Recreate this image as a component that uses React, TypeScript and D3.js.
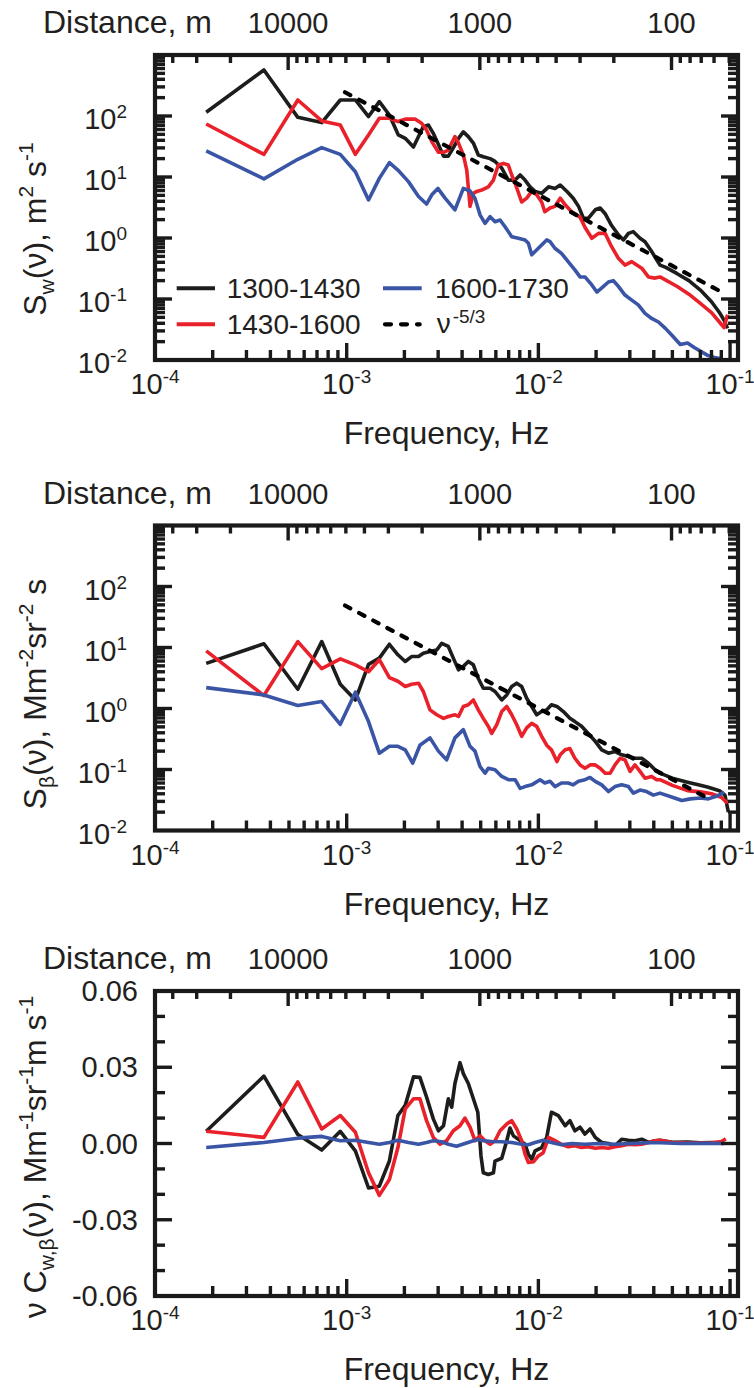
import React from 'react';
import * as d3 from 'd3';

type Pt = [number, number];

// ---------------- data ----------------
const SERIES_NAMES = ['1300-1430', '1430-1600', '1600-1730'];
const SERIES_COLORS = ['#1d1d1b', '#e9212a', '#3a55a5'];
const WIND_SPEED = 4.95; // m/s : frequency = WIND_SPEED / distance
const FREQ_DOMAIN: [number, number] = [1e-4, 0.11];
const LOG_Y_DOMAIN: [number, number] = [1e-2, 1e3];
const LIN_Y_DOMAIN: [number, number] = [-0.06, 0.06];
const FREQ_LABELS = [1e-4, 1e-3, 1e-2, 1e-1];
const LOG_Y_LABELS = [1e-2, 1e-1, 1e0, 1e1, 1e2];
const LIN_Y_LABELS = [-0.06, -0.03, 0, 0.03, 0.06];
const DIST_LABELS = [10000, 1000, 100];
const DIST_TICKS = [40000, 30000, 20000, 10000, 9000, 8000, 7000, 6000, 5000, 4000, 3000, 2000,
  1000, 900, 800, 700, 600, 500, 400, 300, 200, 100, 90, 80, 70, 60, 50];

// Panel 1: S_w
const swBlack: Pt[] = [[1.85e-4,115],[3.70e-4,568],[5.56e-4,95],[7.41e-4,78],[9.26e-4,183],[1.11e-3,183],[1.30e-3,98],[1.48e-3,172],[1.67e-3,104],[1.86e-3,49],[2.02e-3,43],[2.23e-3,31],[2.37e-3,46],[2.51e-3,67],[2.67e-3,71],[2.83e-3,52],[3.01e-3,34],[3.20e-3,22],[3.39e-3,22],[3.60e-3,30],[3.83e-3,43],[4.06e-3,55],[4.31e-3,46],[4.58e-3,36],[4.86e-3,23],[5.16e-3,21.5],[5.60e-3,20],[5.94e-3,18],[6.44e-3,14],[6.97e-3,8.9],[7.56e-3,8.9],[8.03e-3,10.8],[8.52e-3,8.9],[9.05e-3,6.9],[9.61e-3,5.8],[1.04e-2,5.4],[1.13e-2,6.9],[1.22e-2,6.5],[1.30e-2,7.4],[1.41e-2,5.8],[1.52e-2,4.5],[1.62e-2,3.3],[1.72e-2,2.1],[1.82e-2,2.1],[1.98e-2,2.9],[2.10e-2,3.1],[2.23e-2,2.5],[2.41e-2,1.6],[2.62e-2,1.12],[2.78e-2,0.93],[2.95e-2,1.19],[3.13e-2,1.27],[3.39e-2,0.99],[3.60e-2,0.87],[3.90e-2,0.6],[4.14e-2,0.44],[4.31e-2,0.36],[4.62e-2,0.33],[5.3e-2,0.26],[6.1e-2,0.2],[7.0e-2,0.14],[8.0e-2,0.09],[8.8e-2,0.06],[9.3e-2,0.045],[9.7e-2,0.033]];
const swRed: Pt[] = [[1.85e-4,74],[3.70e-4,23.5],[5.56e-4,183],[7.41e-4,83],[9.26e-4,71],[1.11e-3,23.5],[1.30e-3,49],[1.48e-3,92],[1.67e-3,92],[1.85e-3,81],[2.04e-3,89],[2.27e-3,89],[2.46e-3,76],[2.61e-3,59],[2.78e-3,38],[3.01e-3,25.4],[3.20e-3,25.4],[3.39e-3,27.7],[3.67e-3,46],[3.83e-3,36],[4.06e-3,23],[4.23e-3,13],[4.40e-3,3.3],[4.58e-3,5.4],[4.77e-3,5.8],[5.06e-3,6.1],[5.48e-3,6.9],[5.83e-3,8.9],[5.94e-3,10.8],[6.18e-3,15.7],[6.57e-3,16.7],[6.97e-3,15.7],[7.26e-3,10.8],[7.56e-3,7.9],[8.18e-3,3.9],[8.69e-3,4.5],[9.23e-3,5.8],[9.80e-3,5.1],[1.04e-2,3.9],[1.08e-2,2.7],[1.15e-2,3.1],[1.22e-2,3.3],[1.30e-2,4.5],[1.38e-2,3.5],[1.49e-2,2.7],[1.65e-2,2.2],[1.75e-2,1.5],[1.90e-2,0.99],[2.06e-2,1.19],[2.23e-2,1.19],[2.41e-2,0.72],[2.62e-2,0.46],[2.83e-2,0.36],[3.07e-2,0.41],[3.26e-2,0.36],[3.46e-2,0.32],[3.75e-2,0.23],[4.06e-2,0.22],[4.31e-2,0.23],[5.3e-2,0.16],[6.1e-2,0.12],[7.0e-2,0.085],[8.0e-2,0.06],[8.8e-2,0.042],[9.3e-2,0.034],[9.7e-2,0.055]];
const swBlue: Pt[] = [[1.85e-4,26.7],[3.70e-4,9.3],[5.56e-4,19.5],[7.41e-4,30.3],[9.26e-4,23.5],[1.11e-3,12.2],[1.30e-3,4.2],[1.48e-3,9.5],[1.67e-3,17.2],[1.85e-3,13],[2.10e-3,8.4],[2.37e-3,4.8],[2.61e-3,3.6],[2.78e-3,5.1],[2.99e-3,6.5],[3.26e-3,4.5],[3.67e-3,2.9],[4.06e-3,6.5],[4.40e-3,5.9],[4.67e-3,4.5],[4.96e-3,2.4],[5.27e-3,1.74],[5.60e-3,2.24],[5.94e-3,1.85],[6.31e-3,1.97],[6.70e-3,1.53],[7.26e-3,1.05],[7.86e-3,0.99],[8.52e-3,0.93],[8.87e-3,0.82],[9.23e-3,0.53],[9.61e-3,0.6],[1.04e-2,0.77],[1.105e-2,0.93],[1.15e-2,0.87],[1.22e-2,0.68],[1.32e-2,0.56],[1.43e-2,0.41],[1.55e-2,0.3],[1.65e-2,0.23],[1.75e-2,0.23],[1.90e-2,0.17],[2.02e-2,0.13],[2.18e-2,0.16],[2.32e-2,0.19],[2.46e-2,0.2],[2.62e-2,0.16],[2.83e-2,0.116],[3.07e-2,0.096],[3.32e-2,0.08],[3.60e-2,0.058],[3.90e-2,0.048],[4.23e-2,0.042],[4.6e-2,0.033],[5.0e-2,0.025],[5.5e-2,0.018],[6.0e-2,0.019],[6.5e-2,0.016],[7.0e-2,0.014],[7.6e-2,0.012],[8.3e-2,0.011],[9.0e-2,0.0105],[9.3e-2,0.0098]];
const swRef: Pt[] = [[9.8e-4,245],[9.3e-2,0.124]];

// Panel 2: S_beta
const sbBlack: Pt[] = [[1.85e-4,5.5],[3.70e-4,11.5],[5.56e-4,2.07],[7.41e-4,12.5],[9.26e-4,2.5],[1.11e-3,1.38],[1.30e-3,5.3],[1.48e-3,6.7],[1.67e-3,11.3],[1.85e-3,7.6],[2.02e-3,5.9],[2.18e-3,7.1],[2.37e-3,7.1],[2.51e-3,8.05],[2.72e-3,8.6],[2.95e-3,9.1],[3.13e-3,11.7],[3.39e-3,10.4],[3.60e-3,6.7],[3.83e-3,4.3],[4.06e-3,4.9],[4.31e-3,5.9],[4.58e-3,5.2],[4.86e-3,3.1],[5.16e-3,2.15],[5.60e-3,2.15],[5.94e-3,1.9],[6.44e-3,1.38],[6.84e-3,1.67],[7.26e-3,2.3],[7.71e-3,2.6],[8.18e-3,2.3],[8.69e-3,1.47],[9.23e-3,1.08],[9.80e-3,0.79],[1.04e-2,0.89],[1.105e-2,0.95],[1.17e-2,1.15],[1.25e-2,1.08],[1.35e-2,0.89],[1.46e-2,0.69],[1.55e-2,0.61],[1.68e-2,0.51],[1.82e-2,0.39],[1.98e-2,0.29],[2.14e-2,0.21],[2.32e-2,0.185],[2.51e-2,0.197],[2.72e-2,0.174],[2.95e-2,0.163],[3.19e-2,0.153],[3.46e-2,0.153],[3.75e-2,0.127],[4.06e-2,0.099],[4.31e-2,0.087],[5.0e-2,0.072],[6.0e-2,0.062],[7.0e-2,0.055],[7.7e-2,0.051],[8.8e-2,0.045],[9.4e-2,0.038],[9.8e-2,0.02]];
const sbRed: Pt[] = [[1.85e-4,8.8],[3.70e-4,1.63],[5.56e-4,12.5],[7.41e-4,4.5],[9.26e-4,6.5],[1.11e-3,5.2],[1.30e-3,4.0],[1.48e-3,6.3],[1.67e-3,3.2],[1.85e-3,2.8],[2.02e-3,2.3],[2.18e-3,2.5],[2.37e-3,2.6],[2.51e-3,1.9],[2.72e-3,0.95],[2.95e-3,0.79],[3.20e-3,0.69],[3.39e-3,0.74],[3.67e-3,0.79],[3.83e-3,0.74],[4.06e-3,1.08],[4.31e-3,1.15],[4.58e-3,1.38],[4.86e-3,0.95],[5.16e-3,0.69],[5.48e-3,0.51],[5.71e-3,0.39],[6.06e-3,0.54],[6.44e-3,0.89],[6.84e-3,1.08],[7.26e-3,0.79],[7.71e-3,0.54],[8.18e-3,0.35],[8.69e-3,0.48],[9.23e-3,0.57],[9.80e-3,0.51],[1.04e-2,0.35],[1.105e-2,0.25],[1.17e-2,0.21],[1.25e-2,0.135],[1.30e-2,0.174],[1.38e-2,0.21],[1.46e-2,0.22],[1.55e-2,0.153],[1.65e-2,0.119],[1.75e-2,0.105],[1.86e-2,0.119],[1.98e-2,0.119],[2.10e-2,0.105],[2.23e-2,0.087],[2.37e-2,0.087],[2.51e-2,0.119],[2.67e-2,0.153],[2.83e-2,0.144],[3.01e-2,0.093],[3.19e-2,0.119],[3.39e-2,0.093],[3.60e-2,0.072],[3.90e-2,0.077],[4.14e-2,0.068],[4.31e-2,0.068],[5.0e-2,0.055],[6.0e-2,0.045],[7.0e-2,0.043],[8.0e-2,0.04],[9.0e-2,0.035],[9.7e-2,0.028]];
const sbBlue: Pt[] = [[1.85e-4,2.2],[3.70e-4,1.67],[5.56e-4,1.12],[7.41e-4,1.3],[9.26e-4,0.55],[1.11e-3,1.85],[1.30e-3,0.61],[1.48e-3,0.185],[1.67e-3,0.24],[1.85e-3,0.24],[2.02e-3,0.21],[2.21e-3,0.127],[2.41e-3,0.25],[2.72e-3,0.33],[3.01e-3,0.2],[3.32e-3,0.144],[3.67e-3,0.33],[4.06e-3,0.45],[4.40e-3,0.24],[4.67e-3,0.2],[4.96e-3,0.112],[5.27e-3,0.087],[5.48e-3,0.105],[5.94e-3,0.099],[6.44e-3,0.077],[6.97e-3,0.068],[7.56e-3,0.068],[8.03e-3,0.049],[8.52e-3,0.0525],[9.23e-3,0.056],[1.02e-2,0.068],[1.08e-2,0.06],[1.15e-2,0.064],[1.22e-2,0.0525],[1.32e-2,0.06],[1.43e-2,0.06],[1.52e-2,0.056],[1.62e-2,0.064],[1.75e-2,0.068],[1.86e-2,0.074],[1.98e-2,0.064],[2.14e-2,0.056],[2.32e-2,0.0435],[2.51e-2,0.0525],[2.72e-2,0.056],[2.95e-2,0.0525],[3.13e-2,0.041],[3.39e-2,0.046],[3.67e-2,0.0435],[3.98e-2,0.038],[4.31e-2,0.041],[5.0e-2,0.035],[5.6e-2,0.031],[6.2e-2,0.033],[7.0e-2,0.034],[7.7e-2,0.033],[8.4e-2,0.036],[9.0e-2,0.04],[9.3e-2,0.043]];
const sbRef: Pt[] = [[9.8e-4,48.8],[7.5e-2,0.035]];

// Panel 3: nu * C_w,beta
const cwbBlack: Pt[] = [[1.85e-4,0.0048],[3.70e-4,0.0265],[5.56e-4,0.0035],[7.41e-4,-0.0026],[9.26e-4,0.0048],[1.11e-3,-0.0029],[1.30e-3,-0.0175],[1.48e-3,-0.0168],[1.67e-3,-0.0069],[1.85e-3,0.011],[2.02e-3,0.015],[2.23e-3,0.0262],[2.41e-3,0.026],[2.61e-3,0.0183],[2.83e-3,0.0097],[3.01e-3,0.005],[3.20e-3,0.007],[3.39e-3,0.0176],[3.53e-3,0.0143],[3.67e-3,0.0236],[3.90e-3,0.0318],[4.06e-3,0.0275],[4.31e-3,0.0236],[4.58e-3,0.0176],[4.83e-3,0.0123],[5.02e-3,-0.0049],[5.16e-3,-0.0115],[5.48e-3,-0.0122],[5.83e-3,-0.0115],[5.94e-3,-0.0069],[6.44e-3,-0.0058],[6.84e-3,0.0011],[7.11e-3,0.0061],[7.41e-3,0.003],[7.86e-3,0.0017],[8.52e-3,-0.0003],[8.87e-3,-0.0042],[9.23e-3,-0.0062],[9.61e-3,-0.0029],[1.04e-2,-0.0016],[1.105e-2,0.0024],[1.17e-2,0.0123],[1.27e-2,0.011],[1.38e-2,0.007],[1.46e-2,0.009],[1.55e-2,0.005],[1.65e-2,0.0064],[1.75e-2,0.0037],[1.86e-2,0.0057],[1.98e-2,0.0024],[2.14e-2,0.0004],[2.32e-2,0],[2.51e-2,-0.0009],[2.72e-2,0.0017],[2.95e-2,0.0013],[3.19e-2,0.0011],[3.46e-2,0.0017],[3.75e-2,0.0004],[4.06e-2,0.0011],[4.31e-2,0.0013],[5.0e-2,0.0005],[6.0e-2,0.0006],[7.0e-2,0.0003],[8.0e-2,0.0004],[9.0e-2,0.0002],[9.3e-2,0.0003]];
const cwbRed: Pt[] = [[1.85e-4,0.0048],[3.70e-4,0.0024],[5.56e-4,0.0242],[7.41e-4,0.0057],[9.26e-4,0.011],[1.11e-3,0.0044],[1.30e-3,-0.0115],[1.48e-3,-0.0204],[1.67e-3,-0.0142],[1.85e-3,-0.0016],[2.02e-3,0.0136],[2.23e-3,0.0176],[2.41e-3,0.0176],[2.61e-3,0.009],[2.83e-3,0.0024],[3.07e-3,-0.0003],[3.32e-3,0.0011],[3.60e-3,0.005],[3.90e-3,0.007],[4.14e-3,0.01],[4.40e-3,0.0064],[4.67e-3,0.0011],[4.96e-3,0.003],[5.27e-3,0.0011],[5.60e-3,-0.0003],[5.94e-3,0.0011],[6.31e-3,0.005],[6.84e-3,0.0077],[7.26e-3,0.009],[7.71e-3,0.0057],[8.18e-3,0.0011],[8.52e-3,-0.0042],[8.87e-3,-0.0075],[9.42e-3,-0.0072],[1.0e-2,-0.0049],[1.06e-2,-0.0036],[1.13e-2,0.0024],[1.22e-2,0.0011],[1.32e-2,-0.0003],[1.43e-2,-0.0013],[1.55e-2,-0.0009],[1.68e-2,-0.0016],[1.82e-2,-0.0013],[1.98e-2,-0.0019],[2.14e-2,-0.0016],[2.32e-2,-0.0019],[2.51e-2,-0.0013],[2.72e-2,-0.0009],[2.95e-2,-0.0003],[3.19e-2,-0.0005],[3.46e-2,-0.0003],[3.75e-2,0.0004],[4.06e-2,0.0011],[4.31e-2,0.0013],[5.0e-2,0.0004],[6.0e-2,0.0002],[7.0e-2,0.0002],[8.0e-2,0.0003],[9.0e-2,0.0008],[9.5e-2,0.0018]];
const cwbBlue: Pt[] = [[1.85e-4,-0.0016],[3.70e-4,0.0004],[5.56e-4,0.0021],[7.41e-4,0.0028],[9.26e-4,0.0011],[1.11e-3,0.0013],[1.30e-3,0.0004],[1.48e-3,-0.0003],[1.67e-3,0.0004],[1.85e-3,0.0013],[2.10e-3,0.0004],[2.37e-3,-0.0003],[2.61e-3,0.0004],[2.83e-3,0.0011],[3.13e-3,0.0007],[3.39e-3,-0.0003],[3.74e-3,-0.0011],[4.14e-3,0],[4.58e-3,0.0011],[4.86e-3,0.0016],[5.16e-3,0.0011],[5.71e-3,0.0008],[6.44e-3,0.0007],[7.26e-3,0.0004],[8.18e-3,-0.0003],[8.87e-3,-0.0005],[9.61e-3,0.0004],[1.06e-2,0.0013],[1.17e-2,0.0004],[1.32e-2,-0.0005],[1.49e-2,0],[1.75e-2,-0.0003],[2.06e-2,0],[2.51e-2,-0.0003],[3.01e-2,0],[3.75e-2,0.0003],[4.31e-2,0.0003],[5.5e-2,0],[7.0e-2,0.0001],[9.3e-2,0]];

// ---------------- layout / style ----------------
const W = 754;
const H = 1388;
const LEFT = 155;
const RIGHT = 738;
const PH = 305;
const FONT = '"Liberation Sans", Arial, Helvetica, sans-serif';
const TICK_FS = 29;
const SUP_FS = 19;
const TITLE_FS = 32;
const TITLE_SUB_FS = 21;
const DATA_W = 3.6;

type Seg = { t: string; s?: 'sub' | 'sup' };

function Rich({ segs, fs, sfs, subDy, supDy }: { segs: Seg[]; fs: number; sfs: number; subDy: number; supDy: number }) {
  let cur = 0;
  return (
    <>
      {segs.map((g, i) => {
        const target = g.s === 'sub' ? subDy : g.s === 'sup' ? supDy : 0;
        const dy = target - cur;
        cur = target;
        return (
          <tspan key={i} dy={dy} fontSize={g.s ? sfs : fs}>
            {g.t}
          </tspan>
        );
      })}
    </>
  );
}

const fmtLin = d3.formatLocale({ decimal: '.', thousands: ',', grouping: [3], currency: ['', ''], minus: '-' }).format('.2f');

const xs = d3.scaleLog().domain(FREQ_DOMAIN).range([LEFT, RIGHT]);

interface PanelCfg {
  top: number;
  kind: 'log' | 'lin';
  series: Pt[][];
  ref: Pt[] | null;
  title: Seg[];
  titleCy: number;
  legend: boolean;
}

const PANELS: PanelCfg[] = [
  {
    top: 55, kind: 'log', series: [swBlack, swRed, swBlue], ref: swRef, titleCy: 229, legend: true,
    title: [{ t: 'S' }, { t: 'w', s: 'sub' }, { t: '(ν), m' }, { t: '2', s: 'sup' }, { t: ' s' }, { t: '-1', s: 'sup' }],
  },
  {
    top: 525.5, kind: 'log', series: [sbBlack, sbRed, sbBlue], ref: sbRef, titleCy: 694, legend: false,
    title: [{ t: 'S' }, { t: 'β', s: 'sub' }, { t: '(ν), Mm' }, { t: '-2', s: 'sup' }, { t: 'sr' }, { t: '-2', s: 'sup' }, { t: ' s' }],
  },
  {
    top: 991, kind: 'lin', series: [cwbBlack, cwbRed, cwbBlue], ref: null, titleCy: 1157, legend: false,
    title: [{ t: 'ν C' }, { t: 'w,β', s: 'sub' }, { t: '(ν), Mm' }, { t: '-1', s: 'sup' }, { t: 'sr' }, { t: '-1', s: 'sup' }, { t: 'm s' }, { t: '-1', s: 'sup' }],
  },
];

function Panel({ cfg, idx }: { cfg: PanelCfg; idx: number }) {
  const top = cfg.top;
  const bottom = top + PH;
  const ys: any = cfg.kind === 'log'
    ? d3.scaleLog().domain(LOG_Y_DOMAIN).range([bottom, top])
    : d3.scaleLinear().domain(LIN_Y_DOMAIN).range([bottom, top]);
  const line = d3.line<Pt>().x((d) => xs(d[0])).y((d) => ys(d[1]));
  const clipId = `clip${idx}`;
  const isMajorLog = (v: number) => Math.abs(Math.log10(v) - Math.round(Math.log10(v))) < 1e-6;

  const xTicks = xs.ticks().filter((t: number) => xs(t) > LEFT + 1 && xs(t) < RIGHT - 1);
  const yTicks: { v: number; major: boolean }[] = cfg.kind === 'log'
    ? ys.ticks().filter((t: number) => ys(t) < bottom - 1 && ys(t) > top + 1).map((t: number) => ({ v: t, major: isMajorLog(t) }))
    : d3.range(-5, 6).map((i) => ({ v: i / 100, major: i % 3 === 0 }));
  const topTicks = DIST_TICKS.map((d) => ({ d, f: WIND_SPEED / d }))
    .filter((o) => o.f >= FREQ_DOMAIN[0] && o.f <= FREQ_DOMAIN[1]);

  const MAJ = 17, MIN = 10, TMAJ = 15, TMIN = 8;
  const tickStroke = 3.4;

  return (
    <g>
      <defs>
        <clipPath id={clipId}>
          <rect x={LEFT} y={top} width={RIGHT - LEFT} height={PH} />
        </clipPath>
      </defs>
      {/* data */}
      <g clipPath={`url(#${clipId})`} fill="none" strokeLinejoin="round">
        {cfg.series.map((s, i) => (
          <path key={i} d={line(s) || ''} stroke={SERIES_COLORS[i]} strokeWidth={DATA_W} />
        ))}
        {cfg.ref && (
          <path d={line(cfg.ref) || ''} stroke="#000" strokeWidth={4.2} strokeDasharray="6 10" strokeLinecap="round" />
        )}
      </g>
      {/* ticks */}
      <g stroke="#1a1a1a" strokeWidth={tickStroke}>
        {xTicks.map((t: number, i: number) => {
          const x = xs(t);
          const L = isMajorLog(t) ? MAJ : MIN;
          return <line key={'b' + i} x1={x} x2={x} y1={bottom} y2={bottom - L} />;
        })}
        {topTicks.map((o, i) => {
          const x = xs(o.f);
          const L = isMajorLog(o.d) ? TMAJ : TMIN;
          return <line key={'t' + i} x1={x} x2={x} y1={top} y2={top + L} />;
        })}
        {yTicks.map((o, i) => {
          const y = ys(o.v);
          const L = o.major ? MAJ : MIN;
          return (
            <g key={'y' + i}>
              <line x1={LEFT} x2={LEFT + L} y1={y} y2={y} />
              <line x1={RIGHT} x2={RIGHT - L} y1={y} y2={y} />
            </g>
          );
        })}
      </g>
      <rect x={LEFT} y={top} width={RIGHT - LEFT} height={PH} fill="none" stroke="#1a1a1a" strokeWidth={4.2} />

      {/* labels */}
      <g fontFamily={FONT} fill="#231f20" style={{ whiteSpace: 'pre' }}>
        {FREQ_LABELS.map((f, i) => (
          <text key={'fl' + i} x={xs(f)} y={bottom + 34} textAnchor="middle" fontSize={TICK_FS}>
            <Rich segs={[{ t: '10' }, { t: String(Math.round(Math.log10(f))), s: 'sup' }]} fs={TICK_FS} sfs={SUP_FS} subDy={0} supDy={-11} />
          </text>
        ))}
        <text x={(LEFT + RIGHT) / 2} y={bottom + 84} textAnchor="middle" fontSize={TITLE_FS}>Frequency, Hz</text>
        <text x={43} y={top - 22} fontSize={TITLE_FS}>Distance, m</text>
        {DIST_LABELS.map((d, i) => (
          <text key={'dl' + i} x={xs(WIND_SPEED / d)} y={top - 22} textAnchor="middle" fontSize={TICK_FS}>{String(d)}</text>
        ))}
        {cfg.kind === 'log'
          ? LOG_Y_LABELS.map((v, i) => (
              <text key={'yl' + i} x={LEFT - 28} y={ys(v) + 13} textAnchor="end" fontSize={TICK_FS}>
                <Rich segs={[{ t: '10' }, { t: String(Math.round(Math.log10(v))), s: 'sup' }]} fs={TICK_FS} sfs={SUP_FS} subDy={0} supDy={-11} />
              </text>
            ))
          : LIN_Y_LABELS.map((v, i) => (
              <text key={'yl' + i} x={LEFT - 17} y={ys(v) + 10} textAnchor="end" fontSize={TICK_FS}>{fmtLin(v)}</text>
            ))}
        <text transform={`translate(46,${cfg.titleCy}) rotate(-90)`} textAnchor="middle" fontSize={TITLE_FS}>
          <Rich segs={cfg.title} fs={TITLE_FS} sfs={TITLE_SUB_FS} subDy={8} supDy={-13} />
        </text>
      </g>

      {cfg.legend && <Legend />}
    </g>
  );
}

function Legend() {
  const rows = [288.3, 324.3];
  const col1Line = [176.7, 215];
  const col2Line = [383, 421.7];
  const fs = 28;
  return (
    <g fontFamily={FONT} fontSize={fs} fill="#231f20">
      <line x1={col1Line[0]} x2={col1Line[1]} y1={rows[0]} y2={rows[0]} stroke={SERIES_COLORS[0]} strokeWidth={4} />
      <text x={226.7} y={rows[0] + 10}>{SERIES_NAMES[0]}</text>
      <line x1={col2Line[0]} x2={col2Line[1]} y1={rows[0]} y2={rows[0]} stroke={SERIES_COLORS[2]} strokeWidth={4} />
      <text x={435} y={rows[0] + 10}>{SERIES_NAMES[2]}</text>
      <line x1={col1Line[0]} x2={col1Line[1]} y1={rows[1]} y2={rows[1]} stroke={SERIES_COLORS[1]} strokeWidth={4} />
      <text x={226.7} y={rows[1] + 10}>{SERIES_NAMES[1]}</text>
      <line x1={col2Line[0] + 2} x2={col2Line[1] - 2} y1={rows[1]} y2={rows[1]} stroke="#000" strokeWidth={4.2} strokeDasharray="6 10" strokeLinecap="round" />
      <text x={436.7} y={rows[1] + 9}>
        <tspan>ν</tspan>
        <tspan dx={2} dy={-10} fontSize={SUP_FS}>-5/3</tspan>
      </text>
    </g>
  );
}

export default function App() {
  return (
    <svg width={W} height={H} viewBox={`0 0 ${W} ${H}`} style={{ position: 'absolute', left: 0, top: 0, background: '#fff' }}>
      <rect x={0} y={0} width={W} height={H} fill="#fff" />
      {PANELS.map((p, i) => (
        <Panel key={i} cfg={p} idx={i} />
      ))}
    </svg>
  );
}
